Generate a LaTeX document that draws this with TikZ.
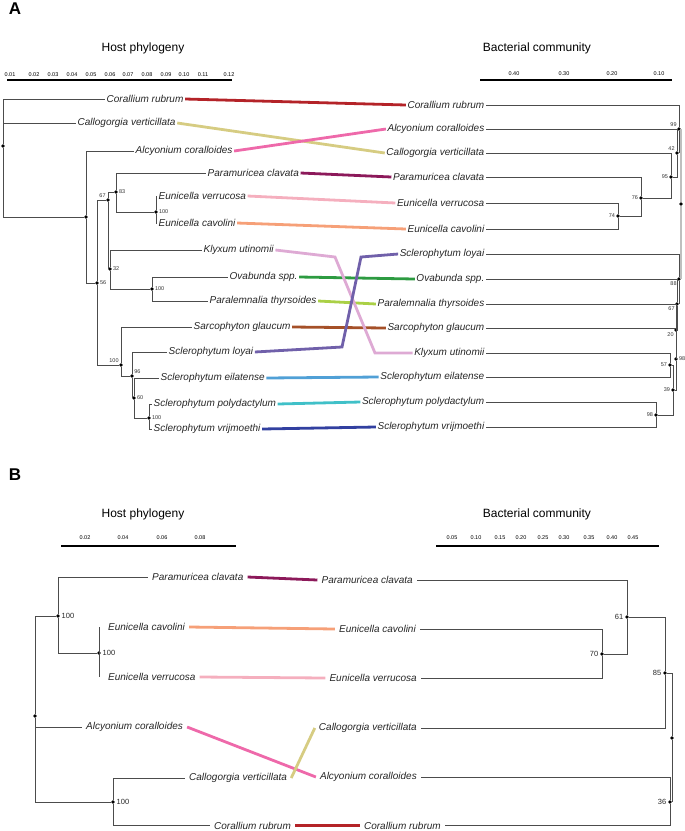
\documentclass[tikz,border=0pt]{standalone}
\usepackage{fontspec}
\setmainfont{Liberation Sans}
\definecolor{cRub}{RGB}{180,35,40}
\definecolor{cVer}{RGB}{214,204,130}
\definecolor{cAlc}{RGB}{238,105,170}
\definecolor{cPar}{RGB}{140,25,90}
\definecolor{cEve}{RGB}{245,175,190}
\definecolor{cEca}{RGB}{246,160,120}
\definecolor{cKly}{RGB}{222,170,212}
\definecolor{cOva}{RGB}{45,155,65}
\definecolor{cPth}{RGB}{170,208,70}
\definecolor{cSar}{RGB}{165,80,40}
\definecolor{cLoy}{RGB}{112,96,170}
\definecolor{cEil}{RGB}{80,160,214}
\definecolor{cPol}{RGB}{64,192,200}
\definecolor{cVri}{RGB}{50,64,160}

\begin{document}
\begin{tikzpicture}[
      x = 1pt, y = -1pt,
      taxon/.style = {
        font = \fontsize{10}{12}\selectfont\itshape, text = black!85,
        inner xsep = 1.5pt, inner ysep = 0.5pt
      },
      taxonB/.style = { taxon, inner xsep = 4pt },
      title/.style = { font = \fontsize{12}{14}\selectfont },
      panel/.style = { font = \fontsize{17}{20}\selectfont\bfseries },
      tick/.style = { font = \fontsize{5.5}{6}\selectfont, inner sep = 0pt },
      support/.style = {
        font = \fontsize{5.5}{6}\selectfont, text = black!80, inner sep = 0.8pt
      },
      supportB/.style = {
        font = \fontsize{7.5}{9}\selectfont, text = black!85, inner sep = 1.5pt
      },
      dot/.style = { circle, fill = black, inner sep = 0pt, minimum size = 3.6pt },
      branch/.style = { draw = black!70, line width = 0.8pt },
      link/.style = { line width = 2.8pt },
      bar/.style = { line width = 2.5pt }
    ]
      \useasboundingbox (0, 0) rectangle (685, 831);

      \node [panel] (A) at (15, 9) {A};
      \node [title] (hostA) at (143, 48) {Host phylogeny};
      \node [title] (bactA) at (537, 48) {Bacterial community};
      \draw [bar] (7, 80) -- (232, 80);
      \draw [bar] (480, 80) -- (672, 80);
      \foreach \x/\t [count = \i] in {10/0.01, 34/0.02, 53/0.03, 72/0.04,
          91/0.05, 110/0.06, 128/0.07, 147/0.08, 166/0.09, 184/0.10, 203/0.11,
          229/0.12}
        \node [tick] (tA-\i) at (\x, 74.5) {\t};
      \foreach \x/\t [count = \i] in {514/0.40, 564/0.30, 612/0.20, 659/0.10}
        \node [tick] (tB-\i) at (\x, 74) {\t};

      \foreach \n/\x/\y/\t in {cor/105/99/Corallium rubrum,
          cal/76/123/Callogorgia verticillata,
          alc/134/151/Alcyonium coralloides,
          par/206/173/Paramuricea clavata,
          eve/157/196/Eunicella verrucosa,
          eca/157/223/Eunicella cavolini,
          kly/202/250/Klyxum utinomii,
          ova/228/277/Ovabunda spp.,
          pth/208/301/Paralemnalia thyrsoides,
          sar/192/327/Sarcophyton glaucum,
          loy/167/352/Sclerophytum loyai,
          eil/159/378/Sclerophytum eilatense,
          pol/152/404/Sclerophytum polydactylum,
          vri/152/429/Sclerophytum vrijmoethi}
        \node [taxon, anchor = west] (hA-\n) at (\x, \y) {\t};
      \foreach \n/\y/\t in {cor/105/Corallium rubrum,
          alc/129/Alcyonium coralloides,
          cal/153/Callogorgia verticillata,
          par/177/Paramuricea clavata,
          eve/203/Eunicella verrucosa,
          eca/229/Eunicella cavolini,
          loy/254/Sclerophytum loyai,
          ova/279/Ovabunda spp.,
          pth/304/Paralemnalia thyrsoides,
          sar/328/Sarcophyton glaucum,
          kly/353/Klyxum utinomii,
          eil/377/Sclerophytum eilatense,
          pol/402/Sclerophytum polydactylum,
          vri/427/Sclerophytum vrijmoethi}
        \node [taxon, anchor = east] (bA-\n) at (486, \y) {\t};

      \node [dot] (rA) at (3, 146) {};
      \node [dot] (nA0) at (86, 217) {};
      \node [dot] (rB) at (681, 204) {};
      \foreach \n/\x/\y/\p/\s in {nA83/116/192/right/83,
          nA100e/156/212/right/100, nA67/108/200/above left/67,
          nA32/110/269/right/32, nA56/97/283/right/56,
          nA100o/152/289/right/100, nA100s/121/365/above left/100,
          nA96/132/376/above right/96, nA60/134/398/right/60,
          nA100p/149/418/right/100,
          nB99/679/129/above left/99, nB42/677/153/above left/42,
          nB95/671/177/left/95, nB76/641/198/left/76, nB74/618/216/left/74,
          nB88/679/279/below left/88, nB67/677/304/below left/67,
          nB20/676/330/below left/20, nB98/676/359/right/98,
          nB57/670/365/left/57, nB39/673/390/left/39,
          nB98b/656/415/left/98}
        \node [dot, label = {[support]\p:\s}] (\n) at (\x, \y) {};

      \foreach \p/\c in {rA/hA-cor.west, rA/hA-cal.west, rA/nA0,
          nA0/hA-alc.west, nA0/nA56, nA56/nA67, nA56/nA100s,
          nA67/nA83, nA67/nA32, nA83/hA-par.west, nA83/nA100e,
          nA100e/hA-eve.west, nA100e/hA-eca.west,
          nA32/hA-kly.west, nA32/nA100o,
          nA100o/hA-ova.west, nA100o/hA-pth.west,
          nA100s/hA-sar.west, nA100s/nA96, nA96/hA-loy.west, nA96/nA60,
          nA60/hA-eil.west, nA60/nA100p,
          nA100p/hA-pol.west, nA100p/hA-vri.west,
          nB99/bA-cor.east, nB99/nB42, nB42/bA-alc.east, nB42/nB95,
          nB95/bA-cal.east, nB95/nB76, nB76/bA-par.east, nB76/nB74,
          nB74/bA-eve.east, nB74/bA-eca.east,
          nB88/bA-loy.east, nB88/nB67, nB67/bA-ova.east, nB67/nB20,
          nB20/bA-pth.east, nB20/nB98, nB98/bA-sar.east, nB98/nB39,
          nB39/nB57, nB39/nB98b, nB57/bA-kly.east, nB57/bA-eil.east,
          nB98b/bA-pol.east, nB98b/bA-vri.east}
        \draw [branch] (\p) |- (\c);
      \draw [branch, draw = black!25, line width = 2pt]
        (rB) |- (nB99) (rB) |- (nB88);

      \foreach \n/\c in {cor/cRub, cal/cVer, alc/cAlc, par/cPar, eve/cEve,
          eca/cEca, ova/cOva, pth/cPth, sar/cSar, eil/cEil, pol/cPol, vri/cVri}
        \draw [link, draw = \c] (hA-\n.east) -- (bA-\n.west);
      \draw [link, draw = cKly] (hA-kly.east) -- (335, 257) -- (375, 353)
        -- (bA-kly.west);
      \draw [link, draw = cLoy] (hA-loy.east) -- (342, 347) -- (361, 257)
        -- (bA-loy.west);

      \node [panel] (B) at (15, 475) {B};
      \node [title] (hostB) at (143, 514) {Host phylogeny};
      \node [title] (bactB) at (537, 514) {Bacterial community};
      \draw [bar] (61, 546) -- (236, 546);
      \draw [bar] (436, 546) -- (659, 546);
      \foreach \x/\t [count = \i] in {85/0.02, 123/0.04, 162/0.06, 200/0.08}
        \node [tick] (tC-\i) at (\x, 538) {\t};
      \foreach \x/\t [count = \i] in {452/0.05, 476/0.10, 500/0.15, 521/0.20,
          543/0.25, 564/0.30, 589/0.35, 612/0.40, 633/0.45}
        \node [tick] (tD-\i) at (\x, 538) {\t};

      \foreach \n/\x/\y/\t in {par/148/577/Paramuricea clavata,
          eca/104/627/Eunicella cavolini,
          eve/104/677/Eunicella verrucosa,
          alc/82/727/Alcyonium coralloides,
          cal/185/778/Callogorgia verticillata,
          cor/210/825.5/Corallium rubrum}
        \node [taxonB, anchor = west] (hB-\n) at (\x, \y) {\t};
      \foreach \n/\x/\y/\t in {par/417/580/Paramuricea clavata,
          eca/420/629/Eunicella cavolini,
          eve/421/678/Eunicella verrucosa,
          cal/421/728/Callogorgia verticillata,
          alc/421/777/Alcyonium coralloides,
          cor/445/825.5/Corallium rubrum}
        \node [taxonB, anchor = east] (bB-\n) at (\x, \y) {\t};

      \node [dot] (rC) at (35, 716) {};
      \node [dot] (rD) at (672, 738) {};
      \foreach \n/\x/\y/\p/\s in {nC100a/58/616/right/100,
          nC100b/99/653/right/100, nC100c/113/802/right/100,
          nD61/627/617/left/61, nD70/602/654/left/70,
          nD85/665/673/left/85, nD36/670/802/left/36}
        \node [dot, label = {[supportB]\p:\s}] (\n) at (\x, \y) {};

      \foreach \p/\c in {rC/nC100a, rC/hB-alc.west, rC/nC100c,
          nC100a/hB-par.west, nC100a/nC100b,
          nC100c/hB-cal.west, nC100c/hB-cor.west,
          rD/nD85, rD/nD36, nD85/nD61, nD85/bB-cal.east,
          nD61/bB-par.east, nD61/nD70,
          nD70/bB-eca.east, nD70/bB-eve.east,
          nD36/bB-alc.east, nD36/bB-cor.east}
        \draw [branch] (\p) |- (\c);
      \draw [branch] (nC100b |- hB-eca.west) -- (nC100b |- hB-eve.west);

      \foreach \n/\c in {par/cPar, eca/cEca, eve/cEve, alc/cAlc, cal/cVer,
          cor/cRub}
        \draw [link, draw = \c] (hB-\n.east) -- (bB-\n.west);
    \end{tikzpicture}
\end{document}
